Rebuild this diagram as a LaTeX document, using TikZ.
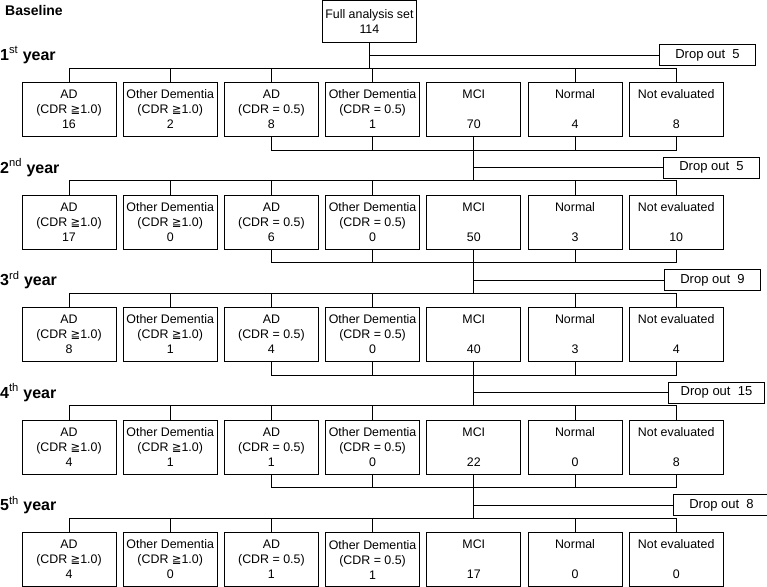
\documentclass[tikz,border=0pt]{standalone}
\usepackage{fontspec}
\setmainfont{Liberation Sans}
\newfontfamily\symfont{DejaVu Sans}
\usetikzlibrary{positioning}
\newcommand{\geqsym}{{\symfont\fontsize{11.5}{15}\selectfont ≧}}
\tikzset{
  grp/.style={rectangle,draw,line width=1pt,minimum width=94pt,minimum height=54pt,
              inner sep=0pt,align=center,font=\fontsize{12.4}{15}\selectfont},
  drop/.style={rectangle,draw,line width=1pt,minimum width=96pt,minimum height=21pt,
               inner sep=0pt,anchor=west,font=\fontsize{13}{14}\selectfont},
  yr/.style={anchor=west,inner sep=0pt,font=\fontsize{16}{18}\selectfont\bfseries},
  link/.style={line width=1pt},
}

\begin{document}
\begin{tikzpicture}[x=1pt, y=-1pt, node distance=6.2pt]
\useasboundingbox (0,0) rectangle (767,586);

% Baseline
\node[anchor=west,inner sep=0pt,font=\fontsize{14}{16}\selectfont\bfseries] (base) at (5,10) {Baseline};
\node[grp,minimum width=94.5pt,minimum height=42pt] (fas) at (369.4,22) {Full analysis set\\114};

% Yearly groups
\foreach \r/\lab/\ya/\yb/\yc/\yd/\ye/\yf/\yg/\dx/\dn in
  {1/1\textsuperscript{\mdseries st}/16/2/8/1/70/4/8/659/5,
   2/2\textsuperscript{\mdseries nd}/17/0/6/0/50/3/10/663/5,
   3/3\textsuperscript{\mdseries rd}/8/1/4/0/40/3/4/664/9,
   4/4\textsuperscript{\mdseries th}/4/1/1/0/22/0/8/668/15,
   5/5\textsuperscript{\mdseries th}/4/0/1/1/17/0/0/673/8} {
  \pgfmathsetmacro\rowy{82+112.5*(\r-1)}
  \node[yr] (yr\r) at (0,\rowy-27) {\lab\ year};
  \node[grp,anchor=north] (ad\r) at (69,\rowy) {AD\\(CDR \geqsym1.0)\\\ya};
  \node[grp,right=of ad\r] (od\r) {Other Dementia\\(CDR \geqsym1.0)\\\yb};
  \node[grp,right=of od\r] (adm\r) {AD\\(CDR = 0.5)\\\yc};
  \node[grp,right=of adm\r] (odm\r) {Other Dementia\\(CDR = 0.5)\\\yd};
  \node[grp,right=of odm\r] (mci\r) {MCI\\~\\\ye};
  \node[grp,right=of mci\r] (nor\r) {Normal\\~\\\yf};
  \node[grp,right=of nor\r] (nev\r) {Not evaluated\\~\\\yg};
  \node[drop] (do\r) at (\dx,\rowy-27) {Drop out~~\dn};

  % bus over the row
  \path (ad\r.north) ++(0,-14) coordinate (bus\r);
  \draw[link] (ad\r.north) -- (bus\r) -| (nev\r.north);
  \foreach \n in {od,adm,odm,nor}
    \draw[link] (\n\r.north) -- (\n\r.north |- bus\r);
}

% Links from one year to the next
\draw[link] (fas.south) -- (fas.south |- bus1);
\draw[link] (fas.south |- do1.west) -- (do1.west);
\foreach \r in {2,3,4,5} {
  \pgfmathtruncatemacro\p{\r-1}
  \path (adm\p.south) ++(0,13) coordinate (col\p);
  \draw[link] (adm\p.south) -- (col\p) -| (nev\p.south);
  \foreach \n in {odm,nor}
    \draw[link] (\n\p.south) -- (\n\p.south |- col\p);
  \draw[link] (mci\p.south) -- (mci\p.south |- bus\r);
  \draw[link] (mci\p.south |- do\r.west) -- (do\r.west);
}
\end{tikzpicture}
\end{document}
